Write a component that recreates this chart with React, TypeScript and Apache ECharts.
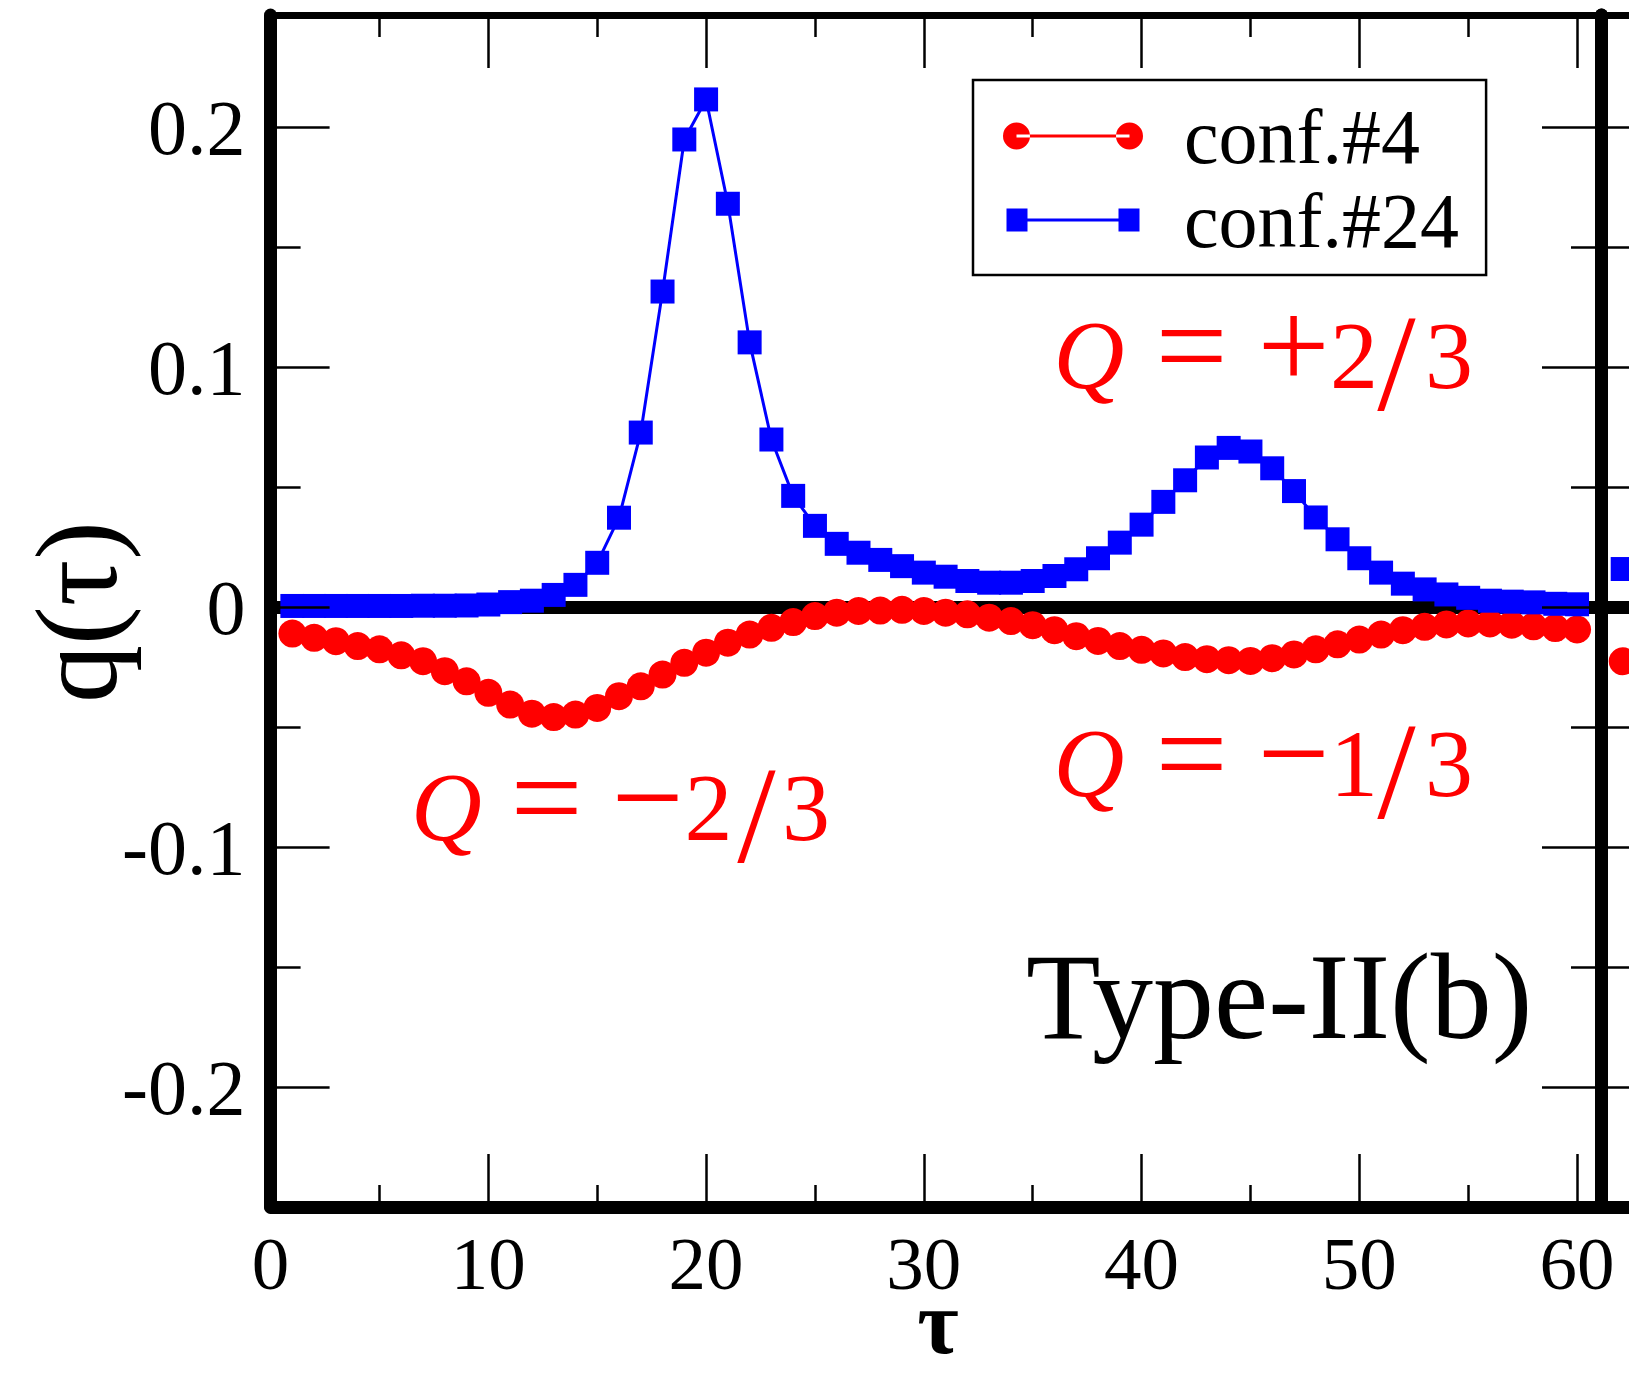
import React, { useEffect, useRef } from 'react';
import * as echarts from 'echarts';

// ---------- data ----------
const tau = [
  1, 2, 3, 4, 5, 6, 7, 8, 9, 10, 11, 12, 13, 14, 15, 16, 17, 18, 19, 20,
  21, 22, 23, 24, 25, 26, 27, 28, 29, 30, 31, 32, 33, 34, 35, 36, 37, 38, 39, 40,
  41, 42, 43, 44, 45, 46, 47, 48, 49, 50, 51, 52, 53, 54, 55, 56, 57, 58, 59, 60,
];

// conf.#4 (red circles)
const conf4 = [
  -0.0109, -0.0127, -0.0141, -0.0161, -0.0175, -0.02, -0.0224, -0.0266, -0.0308, -0.0356,
  -0.0405, -0.0443, -0.0457, -0.0447, -0.0419, -0.037, -0.0329, -0.028, -0.0231, -0.0189,
  -0.0147, -0.0113, -0.0085, -0.0061, -0.0036, -0.0022, -0.0015, -0.0013, -0.001, -0.0015,
  -0.0022, -0.0029, -0.0043, -0.0057, -0.0074, -0.0095, -0.012, -0.014, -0.0161, -0.0177,
  -0.0192, -0.0207, -0.0216, -0.022, -0.0223, -0.0212, -0.0196, -0.0175, -0.0154, -0.0134,
  -0.0113, -0.0095, -0.0081, -0.0071, -0.0067, -0.0067, -0.0072, -0.0079, -0.0086, -0.0092,
];

// conf.#24 (blue squares)
const conf24 = [
  0.0006, 0.0006, 0.0006, 0.0006, 0.0006, 0.0006, 0.0007, 0.0007, 0.0008, 0.0012,
  0.0022, 0.0028, 0.0052, 0.0094, 0.0186, 0.0374, 0.0729, 0.1317, 0.1951, 0.2118,
  0.1683, 0.1105, 0.07, 0.0465, 0.034, 0.0265, 0.0228, 0.0198, 0.0172, 0.0145,
  0.0128, 0.011, 0.0103, 0.0103, 0.011, 0.0131, 0.0159, 0.0205, 0.027, 0.0345,
  0.044, 0.053, 0.0625, 0.0665, 0.065, 0.058, 0.0485, 0.0375, 0.0284, 0.0205,
  0.0145, 0.0099, 0.0075, 0.0054, 0.004, 0.0028, 0.0024, 0.0021, 0.0015, 0.0013,
];

// first points of the neighbouring (cropped) panel on the right
const nextTau = [1];
const nextConf4 = [-0.0225];
const nextConf24 = [0.016];

const xMajorTicks = [0, 10, 20, 30, 40, 50, 60];
const xMinorTicks = [5, 15, 25, 35, 45, 55];
const yMajorTicks = [-0.2, -0.1, 0, 0.1, 0.2];
const yMinorTicks = [-0.15, -0.05, 0.05, 0.15];
const yAllTicks = [-0.2, -0.15, -0.1, -0.05, 0, 0.05, 0.1, 0.15, 0.2];

const X_MIN = 0;
const X_MAX = 61.1;
const Y_MIN = -0.25;
const Y_MAX = 0.247;

const FONT = '"Liberation Serif", "Times New Roman", Times, serif';
const RED = '#ff0000';
const BLUE = '#0000ff';

const redIcon =
  'path://M0,13.5a13.5,13.5 0 1,0 27,0a13.5,13.5 0 1,0 -27,0Z' +
  'M13.5,12h113v3h-113Z' +
  'M113,13.5a13.5,13.5 0 1,0 27,0a13.5,13.5 0 1,0 -27,0Z';
const blueIcon =
  'path://M0,0M140,27M3.5,2h21v23h-21Z' +
  'M115.5,2h21v23h-21Z' +
  'M14,12h112v3h-112Z';

function tickAxis(extra: any) {
  return {
    type: 'value',
    z: 10,
    splitLine: { show: false },
    axisLabel: { show: false },
    ...extra,
  };
}

function annotation(parts: { t: string; cx: number; size: number; italic?: boolean; shift: number }[], baseline: number) {
  return parts.map((p) => ({
    type: 'text',
    x: p.cx,
    y: baseline - p.shift,
    z: 30,
    style: {
      text: p.t,
      fontFamily: FONT,
      fontSize: p.size,
      fontStyle: p.italic ? 'italic' : 'normal',
      fill: RED,
      align: 'center',
      verticalAlign: 'middle',
    },
  }));
}

function buildParts(xs: number[], sign: string, num: string) {
  return [
    { t: 'Q', cx: xs[0], size: 98, italic: true, shift: 33 },
    { t: '=', cx: xs[1], size: 128, shift: 43.2 },
    { t: sign, cx: xs[2], size: 128, shift: 43.2 },
    { t: num, cx: xs[3], size: 96, shift: 32.4 },
    { t: '/', cx: xs[4], size: 138, shift: 24.6 },
    { t: '3', cx: xs[5], size: 96, shift: 32.4 },
  ];
}

export default function App() {
  const ref = useRef<HTMLDivElement>(null);

  useEffect(() => {
    if (!ref.current) return;
    const chart = echarts.init(ref.current, null, { renderer: 'svg' });

    const lineTick = { color: '#000', width: 2.5 };

    const option: any = {
      animation: false,
      backgroundColor: '#fff',
      grid: [
        { left: 270.6, right: 28, top: 15, bottom: 167 },
        { left: 1601, right: 0, top: 15, bottom: 167 },
      ],
      xAxis: [
        tickAxis({
          gridIndex: 0, min: X_MIN, max: X_MAX, position: 'bottom',
          axisLine: { show: true, onZero: false, lineStyle: { color: '#000', width: 13 } },
          axisTick: { show: true, inside: true, length: 53, customValues: xMajorTicks, lineStyle: lineTick },
          axisLabel: {
            show: true, customValues: xMajorTicks, margin: 28, color: '#000',
            fontFamily: FONT, fontSize: 75, lineHeight: 56,
          },
        }),
        tickAxis({
          gridIndex: 0, min: X_MIN, max: X_MAX, position: 'bottom',
          axisLine: { show: false, onZero: false },
          axisTick: { show: true, inside: true, length: 22, customValues: xMinorTicks, lineStyle: lineTick },
        }),
        tickAxis({
          gridIndex: 0, min: X_MIN, max: X_MAX, position: 'top',
          axisLine: { show: true, onZero: false, lineStyle: { color: '#000', width: 7 } },
          axisTick: { show: true, inside: true, length: 53, customValues: xMajorTicks, lineStyle: lineTick },
        }),
        tickAxis({
          gridIndex: 0, min: X_MIN, max: X_MAX, position: 'top',
          axisLine: { show: false, onZero: false },
          axisTick: { show: true, inside: true, length: 22, customValues: xMinorTicks, lineStyle: lineTick },
        }),
        tickAxis({
          gridIndex: 1, min: 0, max: 1.29, position: 'bottom',
          axisLine: { show: true, onZero: false, lineStyle: { color: '#000', width: 13 } },
          axisTick: { show: false },
        }),
        tickAxis({
          gridIndex: 1, min: 0, max: 1.29, position: 'top',
          axisLine: { show: true, onZero: false, lineStyle: { color: '#000', width: 7 } },
          axisTick: { show: false },
        }),
      ],
      yAxis: [
        tickAxis({
          gridIndex: 0, min: Y_MIN, max: Y_MAX, position: 'left',
          axisLine: { show: true, onZero: false, lineStyle: { color: '#000', width: 13 } },
          axisTick: { show: true, inside: true, length: 59, customValues: yMajorTicks, lineStyle: lineTick },
          axisLabel: {
            show: true, customValues: yMajorTicks, margin: 25, color: '#000',
            fontFamily: FONT, fontSize: 78,
          },
        }),
        tickAxis({
          gridIndex: 0, min: Y_MIN, max: Y_MAX, position: 'left',
          axisLine: { show: false, onZero: false },
          axisTick: { show: true, inside: true, length: 30, customValues: yMinorTicks, lineStyle: lineTick },
        }),
        tickAxis({
          gridIndex: 0, min: Y_MIN, max: Y_MAX, position: 'right',
          axisLine: { show: true, onZero: false, lineStyle: { color: '#000', width: 13 } },
          axisTick: { show: true, inside: true, length: 59, customValues: yMajorTicks, lineStyle: lineTick },
        }),
        tickAxis({
          gridIndex: 0, min: Y_MIN, max: Y_MAX, position: 'right',
          axisLine: { show: false, onZero: false },
          axisTick: { show: true, inside: true, length: 30, customValues: yMinorTicks, lineStyle: lineTick },
        }),
        tickAxis({
          gridIndex: 1, min: Y_MIN, max: Y_MAX, position: 'left',
          axisLine: { show: true, onZero: false, lineStyle: { color: '#000', width: 13 } },
          axisTick: { show: true, inside: true, length: 59, customValues: yAllTicks, lineStyle: lineTick },
        }),
      ],
      legend: {
        data: [
          { name: 'conf.#4', icon: redIcon },
          { name: 'conf.#24', icon: blueIcon },
        ],
        orient: 'vertical',
        left: 973,
        top: 80,
        itemWidth: 140,
        itemHeight: 27,
        itemGap: 6,
        padding: [17, 27, 16, 30],
        borderColor: '#000',
        borderWidth: 2.5,
        backgroundColor: '#fff',
        selectedMode: false,
        itemStyle: { borderWidth: 0 },
        textStyle: { fontFamily: FONT, fontSize: 78, color: '#000', padding: [0, 0, 0, 36] },
        z: 20,
      },
      series: [
        {
          name: 'conf.#4',
          type: 'line',
          xAxisIndex: 0,
          yAxisIndex: 0,
          data: tau.map((t, i) => [t, conf4[i]]),
          symbol: 'circle',
          symbolSize: 28,
          showAllSymbol: true,
          itemStyle: { color: RED, borderWidth: 0 },
          lineStyle: { color: RED, width: 3 },
          emphasis: { disabled: true },
          z: 3,
          markLine: {
            silent: true,
            z: 1,
            symbol: ['none', 'none'],
            label: { show: false },
            emphasis: { disabled: true },
            lineStyle: { color: '#000', width: 13, type: 'solid' },
            data: [{ yAxis: 0 }],
          },
        },
        {
          name: 'conf.#24',
          type: 'line',
          xAxisIndex: 0,
          yAxisIndex: 0,
          data: tau.map((t, i) => [t, conf24[i]]),
          symbol: 'rect',
          symbolSize: 24,
          showAllSymbol: true,
          itemStyle: { color: BLUE, borderWidth: 0 },
          lineStyle: { color: BLUE, width: 3 },
          emphasis: { disabled: true },
          z: 4,
        },
        {
          name: 'conf.#4',
          type: 'line',
          xAxisIndex: 4,
          yAxisIndex: 4,
          data: nextTau.map((t, i) => [t, nextConf4[i]]),
          symbol: 'circle',
          symbolSize: 28,
          clip: false,
          itemStyle: { color: RED, borderWidth: 0 },
          lineStyle: { color: RED, width: 3 },
          emphasis: { disabled: true },
          z: 3,
          markLine: {
            silent: true,
            z: 1,
            symbol: ['none', 'none'],
            label: { show: false },
            emphasis: { disabled: true },
            lineStyle: { color: '#000', width: 13, type: 'solid' },
            data: [{ yAxis: 0 }],
          },
        },
        {
          name: 'conf.#24',
          type: 'line',
          xAxisIndex: 4,
          yAxisIndex: 4,
          data: nextTau.map((t, i) => [t, nextConf24[i]]),
          symbol: 'rect',
          symbolSize: 24,
          clip: false,
          itemStyle: { color: BLUE, borderWidth: 0 },
          lineStyle: { color: BLUE, width: 3 },
          emphasis: { disabled: true },
          z: 4,
        },
      ],
      graphic: [
        {
          type: 'text',
          x: 77,
          y: 612,
          rotation: Math.PI / 2,
          z: 30,
          style: {
            text: 'q(τ)', fontFamily: FONT, fontSize: 116, fill: '#000',
            align: 'center', verticalAlign: 'middle',
          },
        },
        {
          type: 'text',
          x: 938,
          y: 1322,
          z: 30,
          style: {
            text: 'τ', fontFamily: FONT, fontSize: 90, fontWeight: 'bold', fill: '#000',
            align: 'center', verticalAlign: 'middle', lineHeight: 64,
          },
        },
        {
          type: 'text',
          x: 1026,
          y: 996,
          z: 30,
          style: {
            text: 'Type-II(b)', fontFamily: FONT, fontSize: 122, fill: '#000',
            align: 'left', verticalAlign: 'middle',
          },
        },
        ...annotation(buildParts([1089, 1191.5, 1293.5, 1354, 1396.5, 1449], '+', '2'), 388),
        ...annotation(buildParts([1089, 1191.5, 1293.5, 1354, 1396.5, 1449], '\u2212', '1'), 796),
        ...annotation(buildParts([446.5, 546.5, 647.5, 708.5, 756.5, 806], '\u2212', '2'), 840),
      ],
    };

    chart.setOption(option);
    return () => chart.dispose();
  }, []);

  return (
    <div
      ref={ref}
      style={{ position: 'absolute', left: 0, top: 0, width: 1629, height: 1374, background: '#fff' }}
    />
  );
}
